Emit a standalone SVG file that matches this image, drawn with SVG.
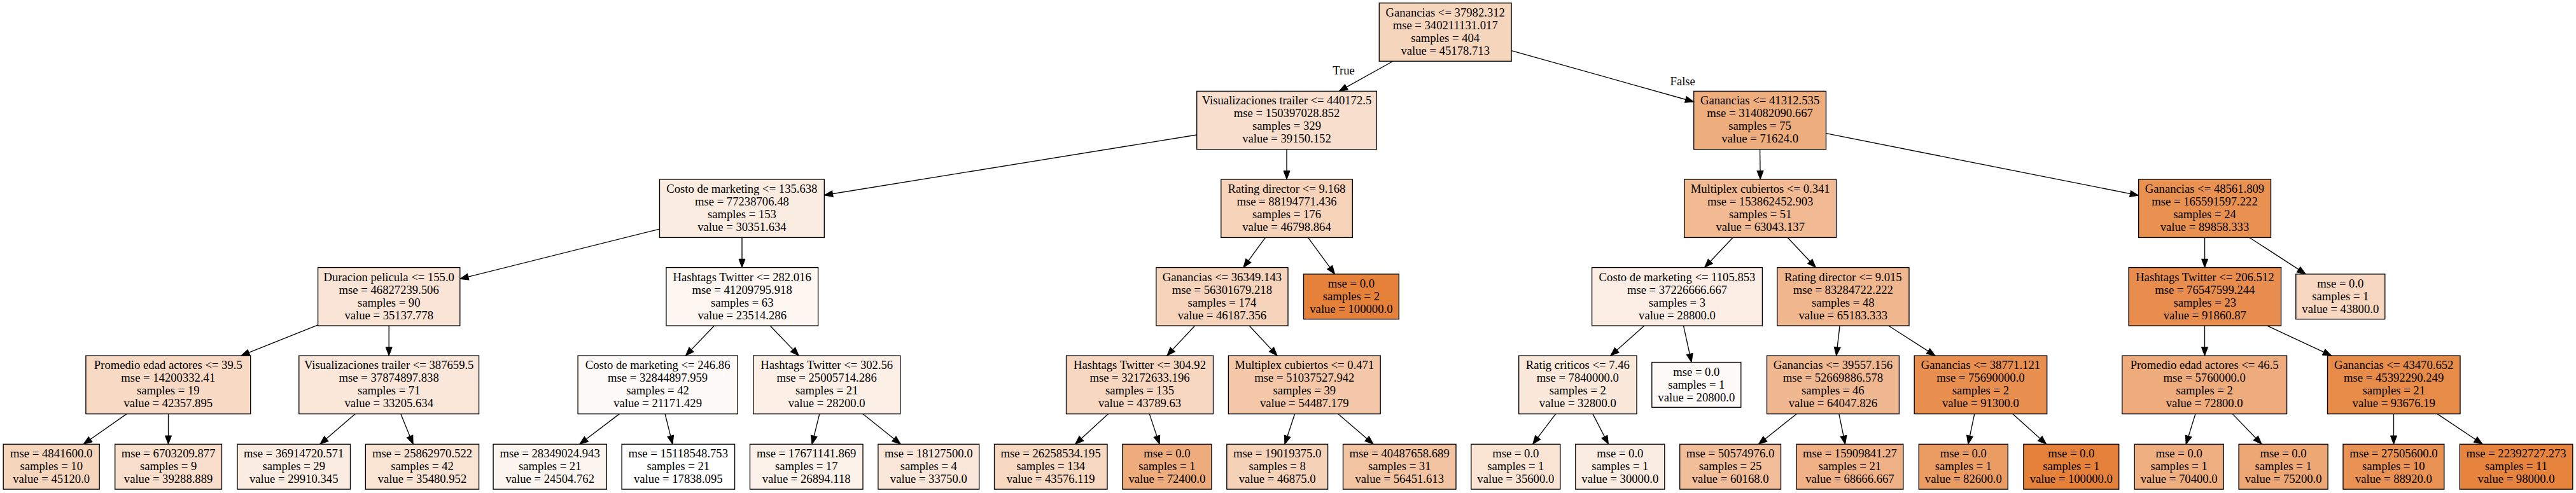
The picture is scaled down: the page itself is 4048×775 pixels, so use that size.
<svg xmlns="http://www.w3.org/2000/svg" width="4048" height="775" viewBox="0 0 4048 775">
<style>
.n rect{stroke:#000;stroke-width:1.33}
text{font-family:"Liberation Serif","Times New Roman",serif;font-size:18.67px;text-anchor:middle;fill:#000}
.e line{stroke:#000;stroke-width:1.33;marker-end:url(#ah)}
</style>
<defs>
<marker id="ah" markerUnits="userSpaceOnUse" markerWidth="16" markerHeight="12" refX="13.3" refY="5" orient="auto" overflow="visible"><path d="M0,0 L13.3,5 L0,10 z" fill="#000" stroke="#000" stroke-width="1"/></marker>
</defs>
<rect width="4048" height="775" fill="#fff"/>
<g id="connectors" class="e">
<line x1="2188.9" y1="96.25" x2="2104.3" y2="143.35"/>
<line x1="2375.1" y1="79.6" x2="2661.7" y2="160"/>
<line x1="1880.65" y1="212" x2="1295.3" y2="306.75"/>
<line x1="2022" y1="234.85" x2="2022" y2="281.95"/>
<line x1="2765.6" y1="234.85" x2="2766.2" y2="281.95"/>
<line x1="2869.5" y1="209.7" x2="3360.55" y2="307.1"/>
<line x1="1036.5" y1="360.03" x2="722.8" y2="438.42"/>
<line x1="1166" y1="373.45" x2="1166" y2="420.55"/>
<line x1="1988.46" y1="373.45" x2="1953.94" y2="420.55"/>
<line x1="2055.47" y1="373.45" x2="2097.5" y2="430.9"/>
<line x1="2723.06" y1="373.45" x2="2678.64" y2="420.55"/>
<line x1="2809.15" y1="373.45" x2="2853.35" y2="420.55"/>
<line x1="3464.6" y1="373.45" x2="3464.6" y2="420.55"/>
<line x1="3534.91" y1="373.45" x2="3623.32" y2="430.9"/>
<line x1="499.6" y1="510.89" x2="378.8" y2="559.15"/>
<line x1="611.2" y1="512.05" x2="611.2" y2="559.15"/>
<line x1="1122.43" y1="512.05" x2="1077.37" y2="559.15"/>
<line x1="1210.1" y1="512.05" x2="1255.3" y2="559.15"/>
<line x1="1877.68" y1="512.05" x2="1833.72" y2="559.15"/>
<line x1="1963.12" y1="512.05" x2="2007.08" y2="559.15"/>
<line x1="2583.94" y1="512.05" x2="2530.86" y2="559.15"/>
<line x1="2645.5" y1="512.05" x2="2658.06" y2="569.5"/>
<line x1="2891.05" y1="512.05" x2="2885.65" y2="559.15"/>
<line x1="2967.64" y1="512.05" x2="3041.06" y2="559.15"/>
<line x1="3464.5" y1="512.05" x2="3464.5" y2="559.15"/>
<line x1="3562.81" y1="512.05" x2="3663.69" y2="559.15"/>
<line x1="199.08" y1="650.65" x2="131.15" y2="698.3"/>
<line x1="264.5" y1="650.65" x2="264.5" y2="698.3"/>
<line x1="558.1" y1="650.65" x2="502.78" y2="698.3"/>
<line x1="629.78" y1="650.65" x2="649.13" y2="698.3"/>
<line x1="973.43" y1="650.65" x2="910.75" y2="698.3"/>
<line x1="1045.04" y1="650.65" x2="1056.95" y2="698.3"/>
<line x1="1287.83" y1="650.65" x2="1275.99" y2="698.3"/>
<line x1="1356.07" y1="650.65" x2="1415.3" y2="698.3"/>
<line x1="1741.34" y1="650.65" x2="1689.62" y2="698.3"/>
<line x1="1806.24" y1="650.65" x2="1822.11" y2="698.3"/>
<line x1="2034.67" y1="650.65" x2="2018.91" y2="698.3"/>
<line x1="2102.87" y1="650.65" x2="2158.14" y2="698.3"/>
<line x1="2444.67" y1="650.65" x2="2408.59" y2="698.3"/>
<line x1="2502.92" y1="650.65" x2="2527.53" y2="698.3"/>
<line x1="2823.1" y1="650.65" x2="2763.43" y2="698.3"/>
<line x1="2889.81" y1="650.65" x2="2899.62" y2="698.3"/>
<line x1="3102.77" y1="650.65" x2="3092.75" y2="698.3"/>
<line x1="3162.98" y1="650.65" x2="3215.67" y2="698.3"/>
<line x1="3449.99" y1="650.65" x2="3435.19" y2="698.3"/>
<line x1="3508.21" y1="650.65" x2="3554.05" y2="698.3"/>
<line x1="3761.5" y1="650.65" x2="3761.5" y2="698.3"/>
<line x1="3830.01" y1="650.65" x2="3901.16" y2="698.3"/>
<text x="2111.5" y="117">True</text>
<text x="2644.2" y="134">False</text>
</g>
<g id="n0" class="n"><rect x="2167.3" y="4.75" width="207.8" height="91.5" fill="#f6d5bd"/><text><tspan x="2271.2" y="25.75">Ganancias &lt;= 37982.312</tspan><tspan x="2271.2" y="45.75">mse = 340211131.017</tspan><tspan x="2271.2" y="65.75">samples = 404</tspan><tspan x="2271.2" y="85.75">value = 45178.713</tspan></text></g>
<g id="n1" class="n"><rect x="1880.7" y="143.35" width="282.7" height="91.5" fill="#f8decc"/><text><tspan x="2022" y="164.35">Visualizaciones trailer &lt;= 440172.5</tspan><tspan x="2022" y="184.35">mse = 150397028.852</tspan><tspan x="2022" y="204.35">samples = 329</tspan><tspan x="2022" y="224.35">value = 39150.152</tspan></text></g>
<g id="n2" class="n"><rect x="2661.7" y="143.35" width="207.8" height="91.5" fill="#eead7d"/><text><tspan x="2765.6" y="164.35">Ganancias &lt;= 41312.535</tspan><tspan x="2765.6" y="184.35">mse = 314082090.667</tspan><tspan x="2765.6" y="204.35">samples = 75</tspan><tspan x="2765.6" y="224.35">value = 71624.0</tspan></text></g>
<g id="n3" class="n"><rect x="1036.5" y="281.95" width="258.8" height="91.5" fill="#fbece1"/><text><tspan x="1165.9" y="302.95">Costo de marketing &lt;= 135.638</tspan><tspan x="1165.9" y="322.95">mse = 77238706.48</tspan><tspan x="1165.9" y="342.95">samples = 153</tspan><tspan x="1165.9" y="362.95">value = 30351.634</tspan></text></g>
<g id="n4" class="n"><rect x="1918.8" y="281.95" width="206.5" height="91.5" fill="#f6d3b9"/><text><tspan x="2022" y="302.95">Rating director &lt;= 9.168</tspan><tspan x="2022" y="322.95">mse = 88194771.436</tspan><tspan x="2022" y="342.95">samples = 176</tspan><tspan x="2022" y="362.95">value = 46798.864</tspan></text></g>
<g id="n5" class="n"><rect x="2646.8" y="281.95" width="238.8" height="91.5" fill="#f1ba92"/><text><tspan x="2766.2" y="302.95">Multiplex cubiertos &lt;= 0.341</tspan><tspan x="2766.2" y="322.95">mse = 153862452.903</tspan><tspan x="2766.2" y="342.95">samples = 51</tspan><tspan x="2766.2" y="362.95">value = 63043.137</tspan></text></g>
<g id="n6" class="n"><rect x="3360.6" y="281.95" width="207.9" height="91.5" fill="#e89151"/><text><tspan x="3464.5" y="302.95">Ganancias &lt;= 48561.809</tspan><tspan x="3464.5" y="322.95">mse = 165591597.222</tspan><tspan x="3464.5" y="342.95">samples = 24</tspan><tspan x="3464.5" y="362.95">value = 89858.333</tspan></text></g>
<g id="n7" class="n"><rect x="499.6" y="420.55" width="223.2" height="91.5" fill="#fae4d5"/><text><tspan x="611.2" y="441.55">Duracion pelicula &lt;= 155.0</tspan><tspan x="611.2" y="461.55">mse = 46827239.506</tspan><tspan x="611.2" y="481.55">samples = 90</tspan><tspan x="611.2" y="501.55">value = 35137.778</tspan></text></g>
<g id="n8" class="n"><rect x="1046.9" y="420.55" width="238.7" height="91.5" fill="#fdf6f1"/><text><tspan x="1166.2" y="441.55">Hashtags Twitter &lt;= 282.016</tspan><tspan x="1166.2" y="461.55">mse = 41209795.918</tspan><tspan x="1166.2" y="481.55">samples = 63</tspan><tspan x="1166.2" y="501.55">value = 23514.286</tspan></text></g>
<g id="n9" class="n"><rect x="1816.8" y="420.55" width="207.2" height="91.5" fill="#f6d4bb"/><text><tspan x="1920.4" y="441.55">Ganancias &lt;= 36349.143</tspan><tspan x="1920.4" y="461.55">mse = 56301679.218</tspan><tspan x="1920.4" y="481.55">samples = 174</tspan><tspan x="1920.4" y="501.55">value = 46187.356</tspan></text></g>
<g id="n10" class="n"><rect x="2048.5" y="430.9" width="149.8" height="70.8" fill="#e58139"/><text><tspan x="2123.4" y="451.9">mse = 0.0</tspan><tspan x="2123.4" y="471.9">samples = 2</tspan><tspan x="2123.4" y="491.9">value = 100000.0</tspan></text></g>
<g id="n11" class="n"><rect x="2501.6" y="420.55" width="267.8" height="91.5" fill="#fceee5"/><text><tspan x="2635.5" y="441.55">Costo de marketing &lt;= 1105.853</tspan><tspan x="2635.5" y="461.55">mse = 37226666.667</tspan><tspan x="2635.5" y="481.55">samples = 3</tspan><tspan x="2635.5" y="501.55">value = 28800.0</tspan></text></g>
<g id="n12" class="n"><rect x="2792.7" y="420.55" width="207.3" height="91.5" fill="#f0b68d"/><text><tspan x="2896.3" y="441.55">Rating director &lt;= 9.015</tspan><tspan x="2896.3" y="461.55">mse = 83284722.222</tspan><tspan x="2896.3" y="481.55">samples = 48</tspan><tspan x="2896.3" y="501.55">value = 65183.333</tspan></text></g>
<g id="n13" class="n"><rect x="3345.1" y="420.55" width="239.5" height="91.5" fill="#e88d4d"/><text><tspan x="3464.8" y="441.55">Hashtags Twitter &lt;= 206.512</tspan><tspan x="3464.8" y="461.55">mse = 76547599.244</tspan><tspan x="3464.8" y="481.55">samples = 23</tspan><tspan x="3464.8" y="501.55">value = 91860.87</tspan></text></g>
<g id="n14" class="n"><rect x="3607.8" y="430.9" width="140" height="70.8" fill="#f7d7c0"/><text><tspan x="3677.8" y="451.9">mse = 0.0</tspan><tspan x="3677.8" y="471.9">samples = 1</tspan><tspan x="3677.8" y="491.9">value = 43800.0</tspan></text></g>
<g id="n15" class="n"><rect x="134.9" y="559.15" width="258.8" height="91.5" fill="#f7d9c4"/><text><tspan x="264.3" y="580.15">Promedio edad actores &lt;= 39.5</tspan><tspan x="264.3" y="600.15">mse = 14200332.41</tspan><tspan x="264.3" y="620.15">samples = 19</tspan><tspan x="264.3" y="640.15">value = 42357.895</tspan></text></g>
<g id="n16" class="n"><rect x="469.8" y="559.15" width="282.8" height="91.5" fill="#fae7da"/><text><tspan x="611.2" y="580.15">Visualizaciones trailer &lt;= 387659.5</tspan><tspan x="611.2" y="600.15">mse = 37874897.838</tspan><tspan x="611.2" y="620.15">samples = 71</tspan><tspan x="611.2" y="640.15">value = 33205.634</tspan></text></g>
<g id="n17" class="n"><rect x="908.1" y="559.15" width="251.1" height="91.5" fill="#fefaf7"/><text><tspan x="1033.6" y="580.15">Costo de marketing &lt;= 246.86</tspan><tspan x="1033.6" y="600.15">mse = 32844897.959</tspan><tspan x="1033.6" y="620.15">samples = 42</tspan><tspan x="1033.6" y="640.15">value = 21171.429</tspan></text></g>
<g id="n18" class="n"><rect x="1183.7" y="559.15" width="231" height="91.5" fill="#fcefe6"/><text><tspan x="1299.2" y="580.15">Hashtags Twitter &lt;= 302.56</tspan><tspan x="1299.2" y="600.15">mse = 25005714.286</tspan><tspan x="1299.2" y="620.15">samples = 21</tspan><tspan x="1299.2" y="640.15">value = 28200.0</tspan></text></g>
<g id="n19" class="n"><rect x="1675.5" y="559.15" width="231" height="91.5" fill="#f7d7c0"/><text><tspan x="1791" y="580.15">Hashtags Twitter &lt;= 304.92</tspan><tspan x="1791" y="600.15">mse = 32172633.196</tspan><tspan x="1791" y="620.15">samples = 135</tspan><tspan x="1791" y="640.15">value = 43789.63</tspan></text></g>
<g id="n20" class="n"><rect x="1930.4" y="559.15" width="238.8" height="91.5" fill="#f3c7a7"/><text><tspan x="2049.8" y="580.15">Multiplex cubiertos &lt;= 0.471</tspan><tspan x="2049.8" y="600.15">mse = 51037527.942</tspan><tspan x="2049.8" y="620.15">samples = 39</tspan><tspan x="2049.8" y="640.15">value = 54487.179</tspan></text></g>
<g id="n21" class="n"><rect x="2386.7" y="559.15" width="185.3" height="91.5" fill="#fae8db"/><text><tspan x="2479.3" y="580.15">Ratig criticos &lt;= 7.46</tspan><tspan x="2479.3" y="600.15">mse = 7840000.0</tspan><tspan x="2479.3" y="620.15">samples = 2</tspan><tspan x="2479.3" y="640.15">value = 32800.0</tspan></text></g>
<g id="n22" class="n"><rect x="2595.8" y="569.5" width="140" height="70.8" fill="#fefaf8"/><text><tspan x="2665.8" y="590.5">mse = 0.0</tspan><tspan x="2665.8" y="610.5">samples = 1</tspan><tspan x="2665.8" y="630.5">value = 20800.0</tspan></text></g>
<g id="n23" class="n"><rect x="2776.5" y="559.15" width="207.9" height="91.5" fill="#f0b890"/><text><tspan x="2880.4" y="580.15">Ganancias &lt;= 39557.156</tspan><tspan x="2880.4" y="600.15">mse = 52669886.578</tspan><tspan x="2880.4" y="620.15">samples = 46</tspan><tspan x="2880.4" y="640.15">value = 64047.826</tspan></text></g>
<g id="n24" class="n"><rect x="3008.2" y="559.15" width="208.5" height="91.5" fill="#e88e4e"/><text><tspan x="3112.4" y="580.15">Ganancias &lt;= 38771.121</tspan><tspan x="3112.4" y="600.15">mse = 75690000.0</tspan><tspan x="3112.4" y="620.15">samples = 2</tspan><tspan x="3112.4" y="640.15">value = 91300.0</tspan></text></g>
<g id="n25" class="n"><rect x="3334.8" y="559.15" width="258.8" height="91.5" fill="#eeab7b"/><text><tspan x="3464.2" y="580.15">Promedio edad actores &lt;= 46.5</tspan><tspan x="3464.2" y="600.15">mse = 5760000.0</tspan><tspan x="3464.2" y="620.15">samples = 2</tspan><tspan x="3464.2" y="640.15">value = 72800.0</tspan></text></g>
<g id="n26" class="n"><rect x="3657.5" y="559.15" width="208.5" height="91.5" fill="#e78b48"/><text><tspan x="3761.7" y="580.15">Ganancias &lt;= 43470.652</tspan><tspan x="3761.7" y="600.15">mse = 45392290.249</tspan><tspan x="3761.7" y="620.15">samples = 21</tspan><tspan x="3761.7" y="640.15">value = 93676.19</tspan></text></g>
<g id="n27" class="n"><rect x="5.2" y="698.3" width="151" height="70.8" fill="#f6d5bd"/><text><tspan x="80.7" y="719.3">mse = 4841600.0</tspan><tspan x="80.7" y="739.3">samples = 10</tspan><tspan x="80.7" y="759.3">value = 45120.0</tspan></text></g>
<g id="n28" class="n"><rect x="180.7" y="698.3" width="167.8" height="70.8" fill="#f8decb"/><text><tspan x="264.6" y="719.3">mse = 6703209.877</tspan><tspan x="264.6" y="739.3">samples = 9</tspan><tspan x="264.6" y="759.3">value = 39288.889</tspan></text></g>
<g id="n29" class="n"><rect x="373" y="698.3" width="177.5" height="70.8" fill="#fbece2"/><text><tspan x="461.7" y="719.3">mse = 36914720.571</tspan><tspan x="461.7" y="739.3">samples = 29</tspan><tspan x="461.7" y="759.3">value = 29910.345</tspan></text></g>
<g id="n30" class="n"><rect x="574.4" y="698.3" width="178.2" height="70.8" fill="#f9e4d4"/><text><tspan x="663.5" y="719.3">mse = 25862970.522</tspan><tspan x="663.5" y="739.3">samples = 42</tspan><tspan x="663.5" y="759.3">value = 35480.952</tspan></text></g>
<g id="n31" class="n"><rect x="775.1" y="698.3" width="178.2" height="70.8" fill="#fdf5ef"/><text><tspan x="864.2" y="719.3">mse = 28349024.943</tspan><tspan x="864.2" y="739.3">samples = 21</tspan><tspan x="864.2" y="759.3">value = 24504.762</tspan></text></g>
<g id="n32" class="n"><rect x="977.1" y="698.3" width="177.5" height="70.8" fill="#ffffff"/><text><tspan x="1065.8" y="719.3">mse = 15118548.753</tspan><tspan x="1065.8" y="739.3">samples = 21</tspan><tspan x="1065.8" y="759.3">value = 17838.095</tspan></text></g>
<g id="n33" class="n"><rect x="1178.5" y="698.3" width="177.5" height="70.8" fill="#fcf1e9"/><text><tspan x="1267.2" y="719.3">mse = 17671141.869</tspan><tspan x="1267.2" y="739.3">samples = 17</tspan><tspan x="1267.2" y="759.3">value = 26894.118</tspan></text></g>
<g id="n34" class="n"><rect x="1379.9" y="698.3" width="158.8" height="70.8" fill="#fae7d9"/><text><tspan x="1459.3" y="719.3">mse = 18127500.0</tspan><tspan x="1459.3" y="739.3">samples = 4</tspan><tspan x="1459.3" y="759.3">value = 33750.0</tspan></text></g>
<g id="n35" class="n"><rect x="1562.5" y="698.3" width="177.5" height="70.8" fill="#f7d8c1"/><text><tspan x="1651.2" y="719.3">mse = 26258534.195</tspan><tspan x="1651.2" y="739.3">samples = 134</tspan><tspan x="1651.2" y="759.3">value = 43576.119</tspan></text></g>
<g id="n36" class="n"><rect x="1763.9" y="698.3" width="140" height="70.8" fill="#eeab7c"/><text><tspan x="1833.9" y="719.3">mse = 0.0</tspan><tspan x="1833.9" y="739.3">samples = 1</tspan><tspan x="1833.9" y="759.3">value = 72400.0</tspan></text></g>
<g id="n37" class="n"><rect x="1927.8" y="698.3" width="158.8" height="70.8" fill="#f6d2b9"/><text><tspan x="2007.2" y="719.3">mse = 19019375.0</tspan><tspan x="2007.2" y="739.3">samples = 8</tspan><tspan x="2007.2" y="759.3">value = 46875.0</tspan></text></g>
<g id="n38" class="n"><rect x="2110.5" y="698.3" width="177.5" height="70.8" fill="#f3c4a2"/><text><tspan x="2199.2" y="719.3">mse = 40487658.689</tspan><tspan x="2199.2" y="739.3">samples = 31</tspan><tspan x="2199.2" y="759.3">value = 56451.613</tspan></text></g>
<g id="n39" class="n"><rect x="2311.8" y="698.3" width="140" height="70.8" fill="#f9e4d4"/><text><tspan x="2381.8" y="719.3">mse = 0.0</tspan><tspan x="2381.8" y="739.3">samples = 1</tspan><tspan x="2381.8" y="759.3">value = 35600.0</tspan></text></g>
<g id="n40" class="n"><rect x="2475.8" y="698.3" width="140" height="70.8" fill="#fbece2"/><text><tspan x="2545.8" y="719.3">mse = 0.0</tspan><tspan x="2545.8" y="739.3">samples = 1</tspan><tspan x="2545.8" y="759.3">value = 30000.0</tspan></text></g>
<g id="n41" class="n"><rect x="2639.7" y="698.3" width="158.8" height="70.8" fill="#f2be99"/><text><tspan x="2719.1" y="719.3">mse = 50574976.0</tspan><tspan x="2719.1" y="739.3">samples = 25</tspan><tspan x="2719.1" y="759.3">value = 60168.0</tspan></text></g>
<g id="n42" class="n"><rect x="2823" y="698.3" width="167.8" height="70.8" fill="#efb185"/><text><tspan x="2906.9" y="719.3">mse = 15909841.27</tspan><tspan x="2906.9" y="739.3">samples = 21</tspan><tspan x="2906.9" y="759.3">value = 68666.667</tspan></text></g>
<g id="n43" class="n"><rect x="3015.3" y="698.3" width="140" height="70.8" fill="#eb9c63"/><text><tspan x="3085.3" y="719.3">mse = 0.0</tspan><tspan x="3085.3" y="739.3">samples = 1</tspan><tspan x="3085.3" y="759.3">value = 82600.0</tspan></text></g>
<g id="n44" class="n"><rect x="3179.9" y="698.3" width="149.8" height="70.8" fill="#e58139"/><text><tspan x="3254.8" y="719.3">mse = 0.0</tspan><tspan x="3254.8" y="739.3">samples = 1</tspan><tspan x="3254.8" y="759.3">value = 100000.0</tspan></text></g>
<g id="n45" class="n"><rect x="3354.2" y="698.3" width="140" height="70.8" fill="#eeae80"/><text><tspan x="3424.2" y="719.3">mse = 0.0</tspan><tspan x="3424.2" y="739.3">samples = 1</tspan><tspan x="3424.2" y="759.3">value = 70400.0</tspan></text></g>
<g id="n46" class="n"><rect x="3518.1" y="698.3" width="140" height="70.8" fill="#eda775"/><text><tspan x="3588.1" y="719.3">mse = 0.0</tspan><tspan x="3588.1" y="739.3">samples = 1</tspan><tspan x="3588.1" y="759.3">value = 75200.0</tspan></text></g>
<g id="n47" class="n"><rect x="3682" y="698.3" width="158.8" height="70.8" fill="#e99254"/><text><tspan x="3761.4" y="719.3">mse = 27505600.0</tspan><tspan x="3761.4" y="739.3">samples = 10</tspan><tspan x="3761.4" y="759.3">value = 88920.0</tspan></text></g>
<g id="n48" class="n"><rect x="3865.3" y="698.3" width="177.5" height="70.8" fill="#e6843e"/><text><tspan x="3954.05" y="719.3">mse = 22392727.273</tspan><tspan x="3954.05" y="739.3">samples = 11</tspan><tspan x="3954.05" y="759.3">value = 98000.0</tspan></text></g>
</svg>
